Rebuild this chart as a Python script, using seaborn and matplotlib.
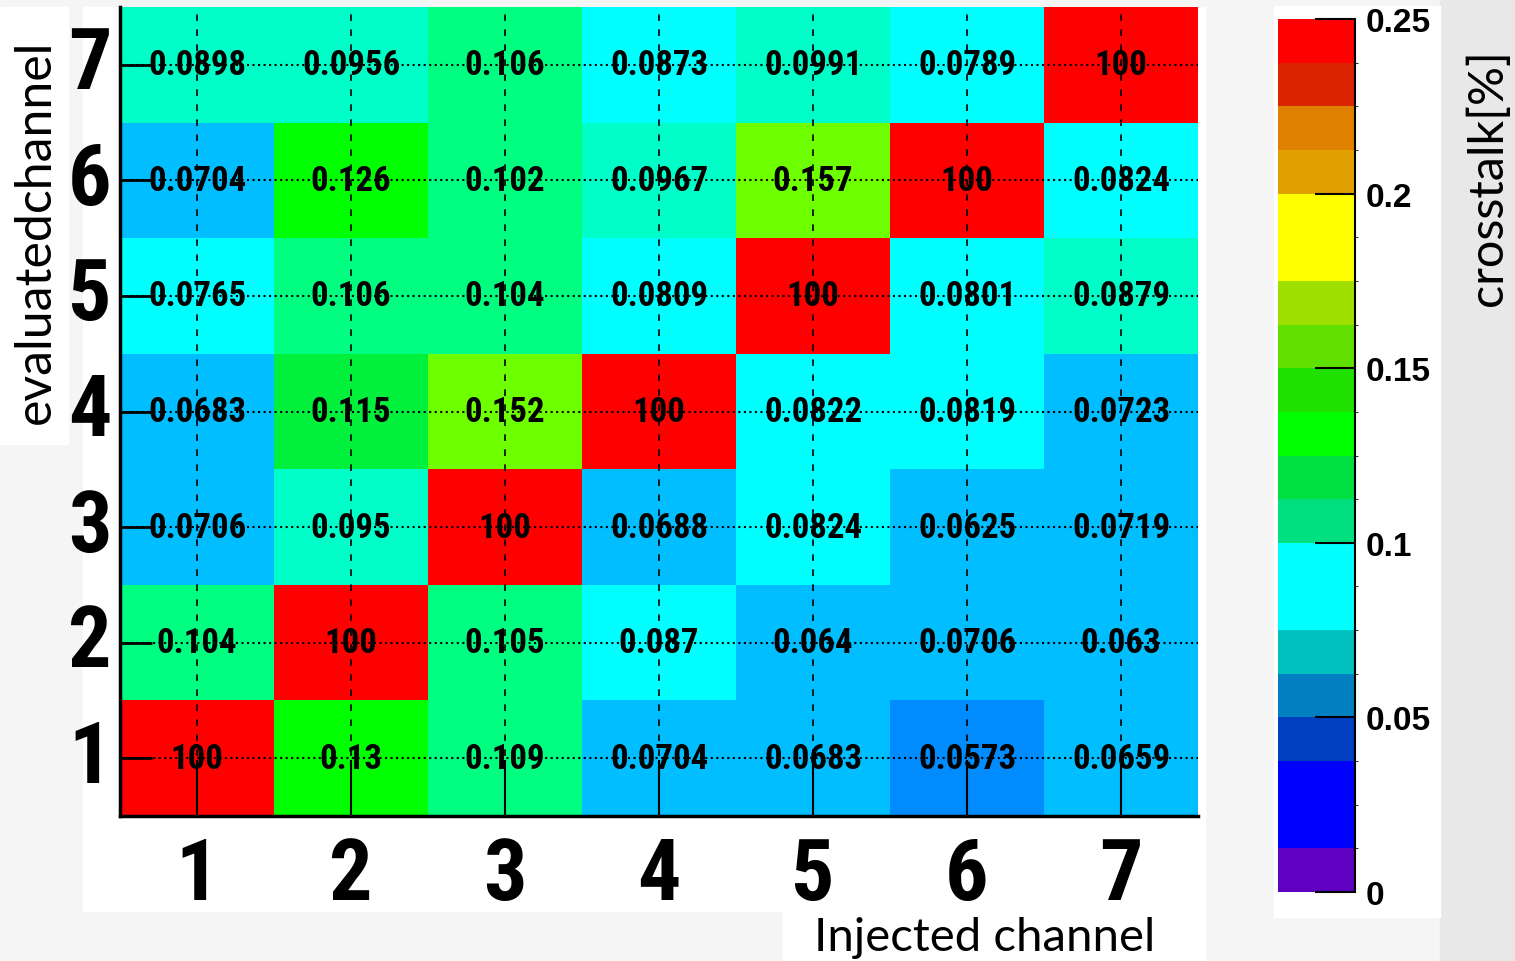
import matplotlib
matplotlib.use('Agg')
import matplotlib.pyplot as plt
import matplotlib.colors as mcolors
from matplotlib import font_manager
from matplotlib.patches import Rectangle
import numpy as np
import pandas as pd
import seaborn as sns

# evaluated channel (rows, top to bottom) vs injected channel (columns)
injected = [1, 2, 3, 4, 5, 6, 7]
evaluated = [7, 6, 5, 4, 3, 2, 1]
row7 = [0.0898, 0.0956, 0.106, 0.0873, 0.0991, 0.0789, 100]
row6 = [0.0704, 0.126, 0.102, 0.0967, 0.157, 100, 0.0824]
row5 = [0.0765, 0.106, 0.104, 0.0809, 100, 0.0801, 0.0879]
row4 = [0.0683, 0.115, 0.152, 100, 0.0822, 0.0819, 0.0723]
row3 = [0.0706, 0.095, 100, 0.0688, 0.0824, 0.0625, 0.0719]
row2 = [0.104, 100, 0.105, 0.087, 0.064, 0.0706, 0.063]
row1 = [100, 0.13, 0.109, 0.0704, 0.0683, 0.0573, 0.0659]

cbar_ticks = [0, 0.05, 0.1, 0.15, 0.2, 0.25]
levels = np.linspace(0, 0.25, 21)

# colours of the cells (one per 0.0125 level)
cell_colors = ['#6000c0', '#0000ff', '#0000ff', '#0040ff', '#008cff',
               '#00beff', '#00ffff', '#00ffc8', '#00ff80', '#00f03c',
               '#00ff00', '#28f000', '#6eff00', '#aaf000', '#ffff00',
               '#ffff00', '#f0aa00', '#f08200', '#e62800', '#ff0000']
# colours as printed in the palette bar
bar_colors = ['#6000c0', '#0000ff', '#0000ff', '#0040c0', '#0080c0',
              '#00c0c0', '#00ffff', '#00ffff', '#00e080', '#00e040',
              '#00ff00', '#20e000', '#60e000', '#a0e000', '#ffff00',
              '#ffff00', '#e0a000', '#e08000', '#dc2300', '#ff0000']

df = pd.DataFrame([row7, row6, row5, row4, row3, row2, row1],
                  index=evaluated, columns=injected)
labels = df.map(lambda v: format(v, '.3g'))

names = {f.name for f in font_manager.fontManager.ttflist}
narrow = None
for cand in ['Liberation Sans Narrow', 'Roboto Condensed', 'DejaVu Sans Condensed',
             'Open Sans Condensed', 'Noto Sans Condensed']:
    if cand in names:
        narrow = cand
        break
if narrow:
    annot_size, tick_size = 25, 62
else:
    narrow, annot_size, tick_size = 'Liberation Sans', 21, 50
thin = 'Lato' if 'Lato' in names else 'DejaVu Sans'

fig = plt.figure(figsize=(15.15, 9.62), dpi=100, facecolor='#f5f5f5')

# white panels like the original canvas
def panel(x0, y0, x1, y1, color='white'):
    fig.patches.append(Rectangle((x0/1515, 1-y1/962), (x1-x0)/1515, (y1-y0)/962,
                                 transform=fig.transFigure, color=color, zorder=-1))

panel(1440, 0, 1515, 962, '#e8e8e8')
panel(83, 8, 1205, 912)
panel(1274, 7, 1440, 918)
panel(0, 8, 68, 445)
panel(783, 900, 1205, 962)

ax = fig.add_axes([120/1515, 1-817/962, 1078/1515, 809/962])
cmap = mcolors.ListedColormap(cell_colors)
cmap.set_over('#ff0000')
norm = mcolors.BoundaryNorm(levels, cmap.N)

sns.heatmap(df, ax=ax, cmap=cmap, norm=norm, cbar=False,
            annot=labels, fmt='',
            annot_kws={'fontsize': annot_size, 'fontweight': 'bold',
                       'family': narrow, 'color': 'black'})

ax.grid(axis='y', color='black', linestyle=':', linewidth=1.5)
ax.grid(axis='x', color='black', linestyle=(0, (4, 5)), linewidth=1.2)
ax.set_axisbelow(False)
for t in ax.texts:
    t.set_zorder(4)

ax.tick_params(axis='y', direction='in', length=23, width=2, pad=6,
               labelsize=tick_size, rotation=0)
ax.tick_params(axis='x', direction='in', length=40, width=1.5, pad=14,
               labelsize=tick_size)
for lab in ax.get_xticklabels() + ax.get_yticklabels():
    lab.set_fontweight('bold')
    lab.set_family(narrow)
for side in ['left', 'bottom']:
    ax.spines[side].set_visible(True)
    ax.spines[side].set_linewidth(2.5)
    ax.spines[side].set_color('black')
ax.set_xlabel('')
ax.set_ylabel('')

fig.text(1155/1515, 1-938/962, 'Injected channel', ha='right', va='center',
         fontsize=34, family=thin, color='black')
fig.text(36/1515, 1-232/962, 'evaluatedchannel', ha='center', va='center',
         rotation=90, fontsize=36, family=thin, color='black')

# palette bar
cax = fig.add_axes([1278/1515, 1-893/962, 77/1515, 873/962])
bar_cmap = mcolors.ListedColormap(bar_colors)
bar_norm = mcolors.BoundaryNorm(levels, bar_cmap.N)
sm = plt.cm.ScalarMappable(norm=bar_norm, cmap=bar_cmap)
cbar = fig.colorbar(sm, cax=cax, ticks=cbar_ticks)
cbar.outline.set_visible(False)
cax.plot([1, 1], [0, 1], transform=cax.transAxes, color='black', lw=1.5,
         clip_on=False)
cax.tick_params(direction='in', length=29, width=1.5, pad=8, labelsize=24)
cax.set_yticklabels([format(v, 'g') for v in cbar_ticks], fontweight='bold',
                    family='Liberation Sans')
fig.text(1488/1515, 1-178/962, 'crosstalk[%]', ha='center', va='center',
         rotation=90, fontsize=35, family=thin, color='black')

fig.savefig('out.png', dpi=100, facecolor=fig.get_facecolor())
